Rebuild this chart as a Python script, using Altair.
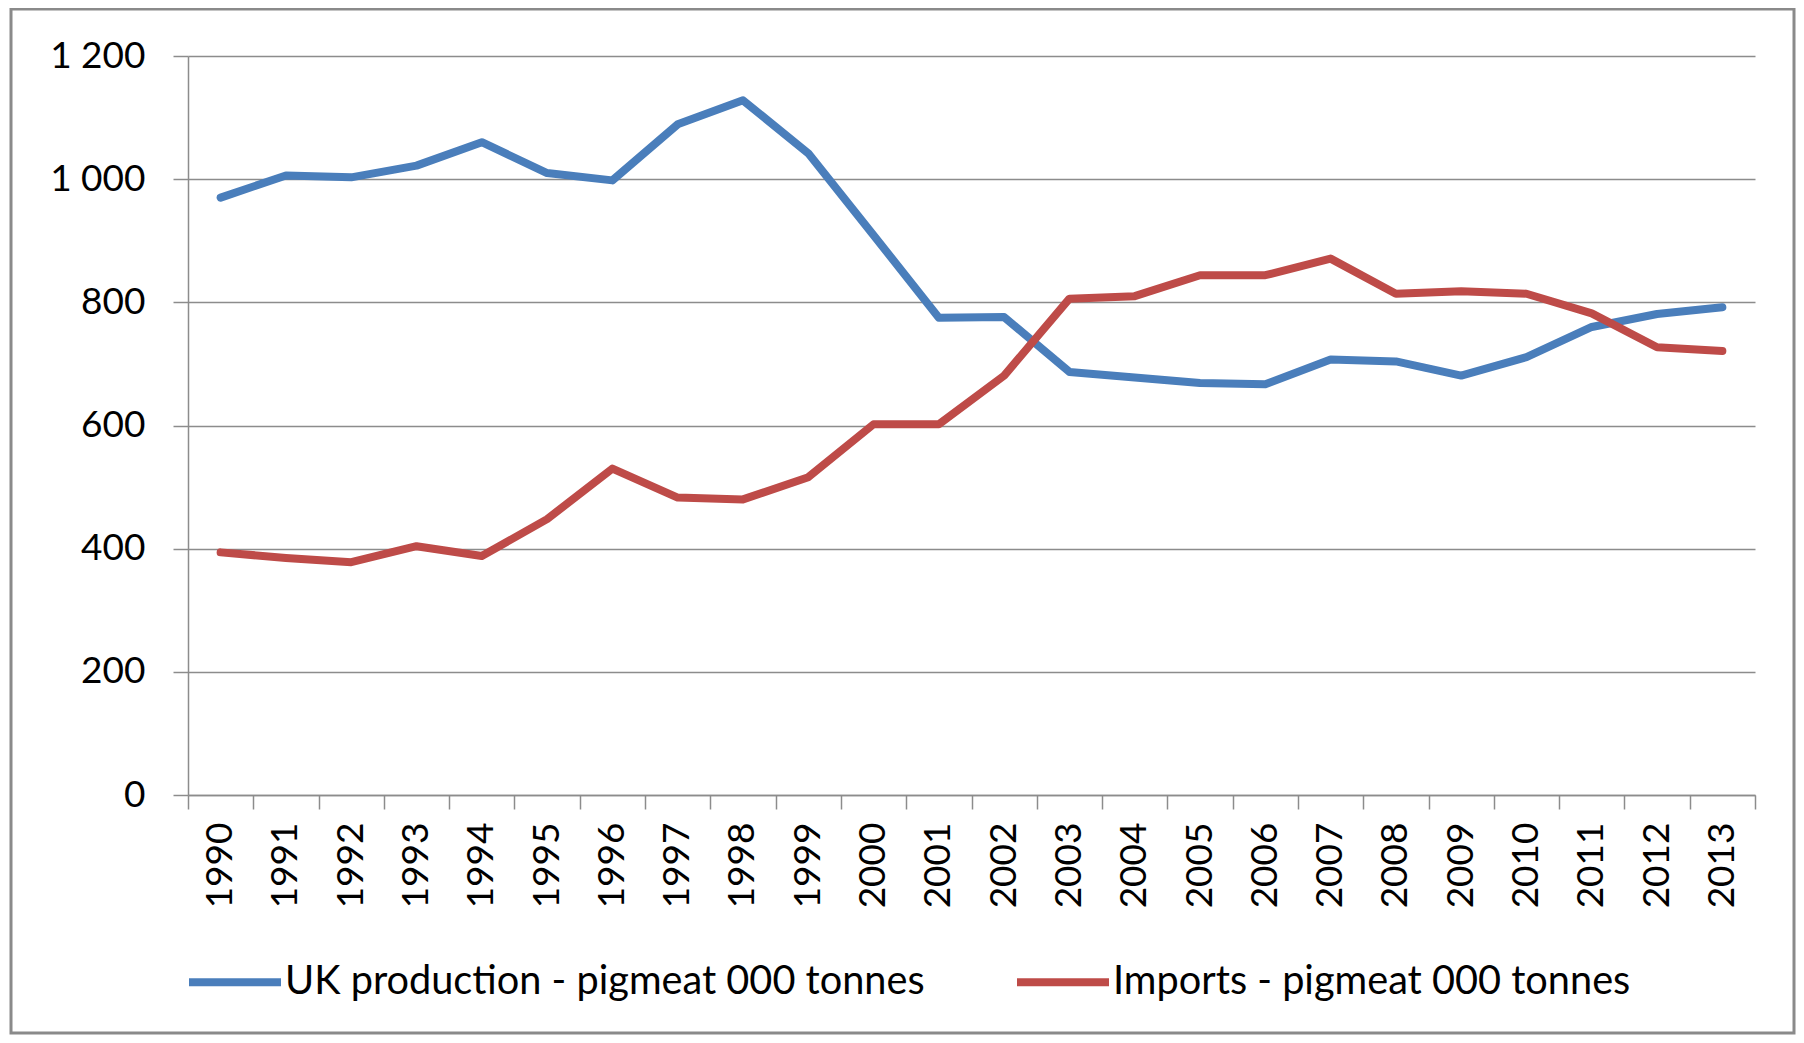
import altair as alt
import pandas as pd

years = ["1990", "1991", "1992", "1993", "1994", "1995", "1996", "1997",
         "1998", "1999", "2000", "2001", "2002", "2003", "2004", "2005",
         "2006", "2007", "2008", "2009", "2010", "2011", "2012", "2013"]

uk_production = [970, 1006, 1003, 1022, 1060, 1010, 998, 1089, 1128, 1042, 909, 775,
                 776, 687, 678, 669, 667, 707, 704, 681, 711, 760, 781, 792]

imports = [394, 385, 378, 404, 388, 448, 530, 483, 480, 516, 602, 602,
           681, 806, 810, 844, 844, 871, 814, 818, 814, 782, 727, 721]

series_names = ["UK production - pigmeat 000 tonnes", "Imports - pigmeat 000 tonnes"]
series_colors = ["#4A7EBB", "#BE4B48"]
y_ticks = [0, 200, 400, 600, 800, 1000, 1200]

rows = []
for name, vals in zip(series_names, [uk_production, imports]):
    for yr, v in zip(years, vals):
        rows.append({"year": yr, "series": name, "value": v})
df = pd.DataFrame(rows)

FONT = "Lato"
GRAY = "#8c8c8c"
W, H = 1567, 739

lines = alt.Chart(df).mark_line(strokeWidth=8, strokeCap="round", strokeJoin="round").encode(
    x=alt.X("year:O", sort=years, bandPosition=0.5,
            scale=alt.Scale(type="band", paddingInner=0, paddingOuter=0),
            axis=alt.Axis(title=None, labelAngle=270, tickBand="extent", tickSize=14,
                          tickColor=GRAY, tickWidth=1.5, domainColor=GRAY, domainWidth=1.5,
                          labelPadding=13, labelFontSize=37, labelColor="#000000",
                          labelFont=FONT, grid=False)),
    y=alt.Y("value:Q", scale=alt.Scale(domain=[0, 1200], nice=False),
            axis=alt.Axis(title=None, values=y_ticks,
                          labelExpr="replace(format(datum.value, ','), ',', ' ')",
                          tickSize=15, tickColor=GRAY, tickWidth=1.5,
                          domainColor=GRAY, domainWidth=1.5,
                          grid=True, gridColor=GRAY, gridWidth=1.5,
                          labelPadding=28, labelFontSize=37, labelColor="#000000",
                          labelFont=FONT)),
    color=alt.Color("series:N", sort=series_names,
                    scale=alt.Scale(domain=series_names, range=series_colors),
                    legend=alt.Legend(title=None, orient="none", legendX=-3, legendY=876,
                                      direction="horizontal", symbolType="stroke",
                                      symbolSize=8464, symbolStrokeWidth=8,
                                      labelFontSize=39.7, labelFont=FONT, labelColor="#000000",
                                      labelLimit=1000, columnPadding=76, labelOffset=0,
                                      padding=0)),
)

frame = alt.Chart(pd.DataFrame({"a": [0]})).mark_rect(
    fill="transparent", stroke="#8a8a8a", strokeWidth=3
).encode(x=alt.value(-177), x2=alt.value(1606), y=alt.value(-47), y2=alt.value(977))

chart = alt.layer(frame, lines).properties(
    width=W, height=H,
    padding={"left": 180, "top": 48, "right": 41, "bottom": 240},
    autosize=alt.AutoSizeParams(type="none"),
    background="white",
).configure_view(stroke=None)

chart.save("out.html", embed_options={"renderer": "svg", "actions": False})
